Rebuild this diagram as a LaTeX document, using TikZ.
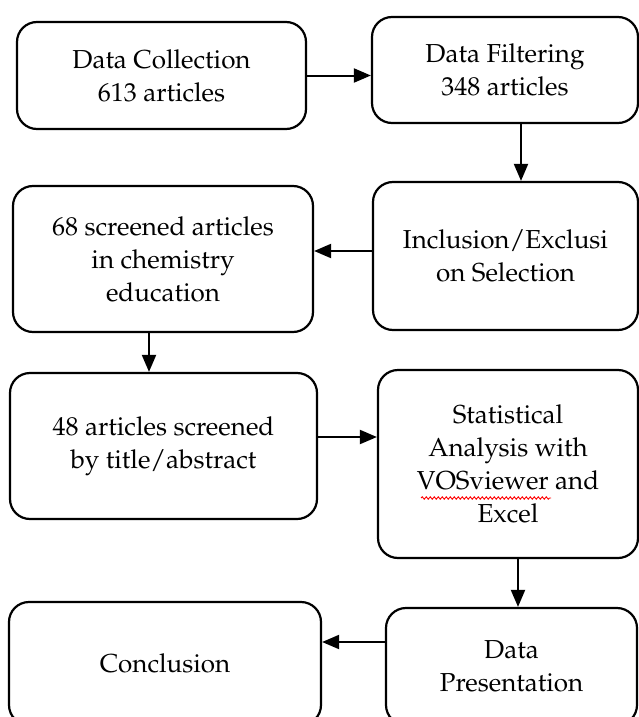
\documentclass[tikz,border=0pt]{standalone}
\usepackage[T1]{fontenc}
\usepackage{mathpazo}
\usetikzlibrary{arrows.meta,decorations.pathmorphing}
\tikzset{
  box/.style={draw, line width=2.2pt, rounded corners=20pt, align=center, inner sep=0pt,
    font=\fontsize{26}{33}\selectfont},
  arr/.style={line width=2pt, -{Triangle[length=17pt,width=14pt]}}
}
\begin{document}
\begin{tikzpicture}[x=1pt,y=-1pt]
\useasboundingbox (0,0) rectangle (639,717);
\clip (0,0) rectangle (639,717);
\fill[white] (0,0) rectangle (639,717);
\node[box, minimum width=289pt, minimum height=107pt] (B1) at (161.5,75.5) {Data Collection\\613 articles};
\node[box, minimum width=266pt, minimum height=106pt] (B2) at (505,70) {Data Filtering\\348 articles};
\node[box, minimum width=265pt, minimum height=148pt] (B3) at (505.5,256) {Inclusion/Exclusi\\on Selection};
\node[box, minimum width=300pt, minimum height=146pt] (B4) at (163,259) {68 screened articles\\in chemistry\\education};
\node[box, minimum width=307pt, minimum height=146pt] (B5) at (163.5,446) {48 articles screened\\by title/abstract};
\node[box, minimum width=260pt, minimum height=188pt] (B6) at (508,464) {Statistical\\Analysis with\\VOSviewer and\\Excel};
\node[box, minimum width=251pt, minimum height=117pt] (B7) at (511.5,666.5) {Data\\Presentation};
\node[box, minimum width=312pt, minimum height=123pt] (B8) at (165,663.5) {Conclusion};
\draw[arr] (B1.east) -- (B1.east -| B2.west);
\draw[arr] ([xshift=16pt]B2.south) -- ([xshift=16pt]B2.south |- B3.north);
\draw[arr] ([yshift=5pt]B3.west) -- ([yshift=5pt]B3.west -| B4.east);
\draw[arr] ([xshift=-14pt]B4.south) -- ([xshift=-14pt]B4.south |- B5.north);
\draw[arr] ([yshift=9pt]B5.east) -- ([yshift=9pt]B5.east -| B6.west);
\draw[arr] ([xshift=10pt]B6.south) -- ([xshift=10pt]B6.south |- B7.north);
\draw[arr] ([yshift=24.5pt]B7.west) -- ([yshift=24.5pt]B7.west -| B8.east);
\draw[red, line width=0.9pt, decorate, decoration={snake, amplitude=1.2pt, segment length=4pt}] (421,498) -- (551,498);
\end{tikzpicture}
\end{document}
